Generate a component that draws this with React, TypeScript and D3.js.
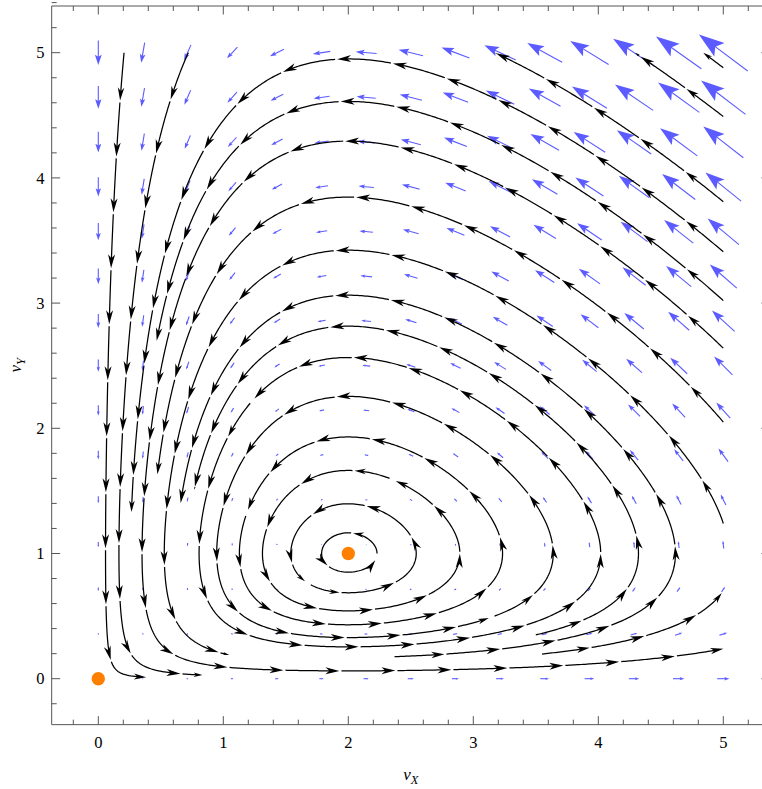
import React from 'react';
import * as d3 from 'd3';

const WIDTH = 762;
const HEIGHT = 789;

// Lotka–Volterra model: dvX/dt = vX (a - b vY), dvY/dt = vY (c vX - d)
const modelA = 1;
const modelB = 1;
const modelC = 1;
const modelD = 2;

const xTickValues = [0, 1, 2, 3, 4, 5];
const yTickValues = [0, 1, 2, 3, 4, 5];
const fixedPoints: [number, number][] = [[0, 0], [2, 1]];
// sample positions of the blue vector arrows (15 per axis)
const arrowGrid = [0, 0.357, 0.714, 1.071, 1.429, 1.786, 2.143, 2.5, 2.857, 3.214, 3.571, 3.929, 4.286, 4.643, 5];

// streamlines: start (x, y) -> end (x, y) (end == start means a closed loop)
const streamStarts: [number, number][] = [
  [5, 4.88],
  [5, 4.49],
  [5, 3.81],
  [5, 3.41],
  [5, 3.02],
  [5, 2.64],
  [5, 2.05],
  [5, 1.24],
  [3.55, 0.197],
  [2.37, 0.176],
  [3.5, 0.35],
  [1.215, 2.2],
  [3.17, 0.5],
  [1.18, 1.3],
  [2.33, 1.6],
  [1.7, 0.75],
  [2.23, 1.0],
  [0.206, 5],
  [0.72, 5],
];
const streamEnds: [number, number][] = [
  [4.84, 5],
  [4.29, 5],
  [3.17, 5],
  [0.27, 1.33],
  [0.478, 2.705],
  [5, 0.25],
  [0.47, 1.627],
  [1.054, 0.19],
  [4.97, 0.685],
  [0.655, 1.403],
  [0.775, 1.507],
  [1.215, 2.2],
  [3.17, 0.5],
  [1.18, 1.3],
  [2.33, 1.6],
  [1.7, 0.75],
  [2.23, 1.0],
  [0.39, 0.01],
  [0.84, 0.03],
];
const streamFirstArrow = [25, 46, 48, 48, 48, 48, 48, 48, 48, 50, 48, 40, 44, 52, 36, 30, 34, 48, 50];

const x = d3.scaleLinear().domain([0, 5]).range([98.3, 723.3]);
const y = d3.scaleLinear().domain([0, 5]).range([678.7, 52.7]);
const frameX0 = x(-0.373);
const frameX1 = x(5.373);
const frameY0 = y(5.373);
const frameY1 = y(-0.367);

function fieldData(vx: number, vy: number): [number, number] {
  return [vx * (modelA - modelB * vy), vy * (modelC * vx - modelD)];
}

function dirPx(px: number, py: number): [number, number] {
  const [fx, fy] = fieldData(x.invert(px), y.invert(py));
  const dx = fx * (x(1) - x(0));
  const dy = fy * (y(1) - y(0));
  const m = Math.hypot(dx, dy) || 1;
  return [dx / m, dy / m];
}

function trace(start: [number, number], stop: [number, number]): [number, number][] {
  let p: [number, number] = [x(start[0]), y(start[1])];
  const end: [number, number] = [x(stop[0]), y(stop[1])];
  const isLoop = start[0] === stop[0] && start[1] === stop[1];
  const pts: [number, number][] = [p];
  const h = 1;
  let len = 0;
  let prevD = Infinity;
  for (let i = 0; i < 6000; i++) {
    const k1 = dirPx(p[0], p[1]);
    const k2 = dirPx(p[0] + (h / 2) * k1[0], p[1] + (h / 2) * k1[1]);
    const k3 = dirPx(p[0] + (h / 2) * k2[0], p[1] + (h / 2) * k2[1]);
    const k4 = dirPx(p[0] + h * k3[0], p[1] + h * k3[1]);
    const q: [number, number] = [
      p[0] + (h / 6) * (k1[0] + 2 * k2[0] + 2 * k3[0] + k4[0]),
      p[1] + (h / 6) * (k1[1] + 2 * k2[1] + 2 * k3[1] + k4[1]),
    ];
    const qx = x.invert(q[0]);
    const qy = y.invert(q[1]);
    if (qx < -0.001 || qx > 5.001 || qy < -0.001 || qy > 5.001) break;
    len += h;
    pts.push(q);
    p = q;
    const d = Math.hypot(q[0] - end[0], q[1] - end[1]);
    if (isLoop) {
      if (len > 40 && d < 7) break;
    } else {
      if (len > 25 && d < 1.2) break;
      if (len > 25 && d < 16 && d > prevD) break;
    }
    prevD = d;
  }
  return pts;
}

const PIECE = 56;
const GAP = 2;

function headPoly(tx: number, ty: number, ux: number, uy: number, hl: number, hw: number, notch = 0.72) {
  const nx = -uy;
  const ny = ux;
  const bx = tx - hl * ux;
  const by = ty - hl * uy;
  const pts = [
    [tx, ty],
    [bx + (hw / 2) * nx, by + (hw / 2) * ny],
    [tx - notch * hl * ux, ty - notch * hl * uy],
    [bx - (hw / 2) * nx, by - (hw / 2) * ny],
  ];
  return 'M' + pts.map((q) => q[0].toFixed(2) + ',' + q[1].toFixed(2)).join('L') + 'Z';
}

function buildStream(pts: [number, number][], first: number) {
  const cum: number[] = [0];
  for (let i = 1; i < pts.length; i++) {
    cum.push(cum[i - 1] + Math.hypot(pts[i][0] - pts[i - 1][0], pts[i][1] - pts[i - 1][1]));
  }
  const total = cum[cum.length - 1];
  const pieces: { line: string; head: string }[] = [];
  const at = (l: number): [number, number] => {
    const i = d3.bisectLeft(cum, l);
    if (i <= 0) return pts[0];
    if (i >= pts.length) return pts[pts.length - 1];
    const t = (l - cum[i - 1]) / (cum[i] - cum[i - 1] || 1);
    return [pts[i - 1][0] + t * (pts[i][0] - pts[i - 1][0]), pts[i - 1][1] + t * (pts[i][1] - pts[i - 1][1])];
  };
  let s = 0;
  let idx = 0;
  while (s < total - 0.5) {
    const e = Math.min(total, s + (idx === 0 ? first : PIECE));
    const L = e - s;
    const hl = 14 * Math.sqrt(Math.min(1, L / PIECE));
    const hw = hl * 0.5;
    const tip = at(e);
    const back = at(Math.max(s, e - 3));
    let ux = tip[0] - back[0];
    let uy = tip[1] - back[1];
    const m = Math.hypot(ux, uy) || 1;
    ux /= m;
    uy /= m;
    const line: [number, number][] = [];
    const ls = s + (s > 0 ? GAP : 0);
    const le = e - hl * 0.6;
    if (le > ls) {
      const n = Math.max(2, Math.ceil((le - ls) / 2));
      for (let k = 0; k <= n; k++) line.push(at(ls + ((le - ls) * k) / n));
    }
    pieces.push({
      line: line.length ? (d3.line()(line) as string) : '',
      head: headPoly(tip[0], tip[1], ux, uy, hl, hw),
    });
    s = e;
    idx++;
  }
  return pieces;
}

export default function App() {
  const streamPieces = streamStarts.flatMap((s, i) => buildStream(trace(s, streamEnds[i]), streamFirstArrow[i]));

  const vectors: { line: string; head: string }[] = [];
  const scale = 2.44;
  for (const gx of arrowGrid) {
    for (const gy of arrowGrid) {
      const [fx, fy] = fieldData(gx, gy);
      const mag = Math.hypot(fx, fy);
      if (mag < 1e-6) continue;
      const L = scale * mag;
      const ux = fx / mag;
      const uy = -fy / mag;
      const cx = x(gx);
      const cy = y(gy);
      const tx = cx + (ux * L) / 2;
      const ty = cy + (uy * L) / 2;
      const sx = cx - (ux * L) / 2;
      const sy = cy - (uy * L) / 2;
      const hl = 0.42 * L;
      const hw = 0.28 * L;
      vectors.push({
        line: `M${sx.toFixed(2)},${sy.toFixed(2)}L${(tx - ux * hl * 0.6).toFixed(2)},${(ty - uy * hl * 0.6).toFixed(2)}`,
        head: headPoly(tx, ty, ux, uy, hl, hw, 0.8),
      });
    }
  }

  const minorX = d3.range(-0.2, 5.41, 0.2).map((v) => +v.toFixed(2));
  const minorY = d3.range(-0.2, 5.41, 0.2).map((v) => +v.toFixed(2));
  const isMajor = (v: number) => Math.abs(v - Math.round(v)) < 1e-6;
  const frameColor = '#555';
  const font = "'Liberation Serif', 'Times New Roman', serif";

  return (
    <svg
      width={WIDTH}
      height={HEIGHT}
      style={{ position: 'absolute', left: 0, top: 0, background: '#fff' }}
      xmlns="http://www.w3.org/2000/svg"
    >
      <rect x={0} y={0} width={WIDTH} height={HEIGHT} fill="#fff" />
      <g>
        {vectors.map((v, i) => (
          <g key={i}>
            <path d={v.line} stroke="#5b5bff" strokeWidth={1.1} fill="none" />
            <path d={v.head} fill="#5b5bff" stroke="none" />
          </g>
        ))}
      </g>
      <g>
        {streamPieces.map((p, i) => (
          <g key={i}>
            {p.line && <path d={p.line} stroke="#000" strokeWidth={1.25} fill="none" />}
            <path d={p.head} fill="#000" stroke="none" />
          </g>
        ))}
      </g>
      {fixedPoints.map((p, i) => (
        <circle key={i} cx={x(p[0])} cy={y(p[1])} r={6.7} fill="#ff8000" />
      ))}
      <g stroke={frameColor} strokeWidth={1} fill="none">
        <path d={`M${frameX0},${frameY0}H${frameX1}V${frameY1}H${frameX0}Z`} />
        {minorX.map((v) => {
          const len = isMajor(v) ? 8.5 : 5;
          return (
            <g key={'x' + v}>
              <line x1={x(v)} x2={x(v)} y1={frameY1} y2={frameY1 - len} />
              <line x1={x(v)} x2={x(v)} y1={frameY0} y2={frameY0 + len} />
            </g>
          );
        })}
        {minorY.map((v) => {
          const len = isMajor(v) ? 8.5 : 5;
          return (
            <g key={'y' + v}>
              <line x1={frameX0} x2={frameX0 + len} y1={y(v)} y2={y(v)} />
              <line x1={frameX1} x2={frameX1 - len} y1={y(v)} y2={y(v)} />
            </g>
          );
        })}
      </g>
      <g fontFamily={font} fontSize={16.5} fill="#000">
        {xTickValues.map((v) => (
          <text key={'xl' + v} x={x(v)} y={748.3} textAnchor="middle">
            {v}
          </text>
        ))}
        {yTickValues.map((v) => (
          <text key={'yl' + v} x={44.5} y={y(v) + 5.6} textAnchor="end">
            {v}
          </text>
        ))}
      </g>
      <text x={(frameX0 + frameX1) / 2} y={780} textAnchor="middle" fontFamily={font} fontStyle="italic" fontSize={17}>
        v<tspan fontSize={12.5} dy={4}>X</tspan>
      </text>
      <text
        transform={`translate(21, ${(frameY0 + frameY1) / 2}) rotate(-90)`}
        textAnchor="middle"
        fontFamily={font}
        fontStyle="italic"
        fontSize={17}
      >
        v<tspan fontSize={12.5} dy={4}>Y</tspan>
      </text>
    </svg>
  );
}
